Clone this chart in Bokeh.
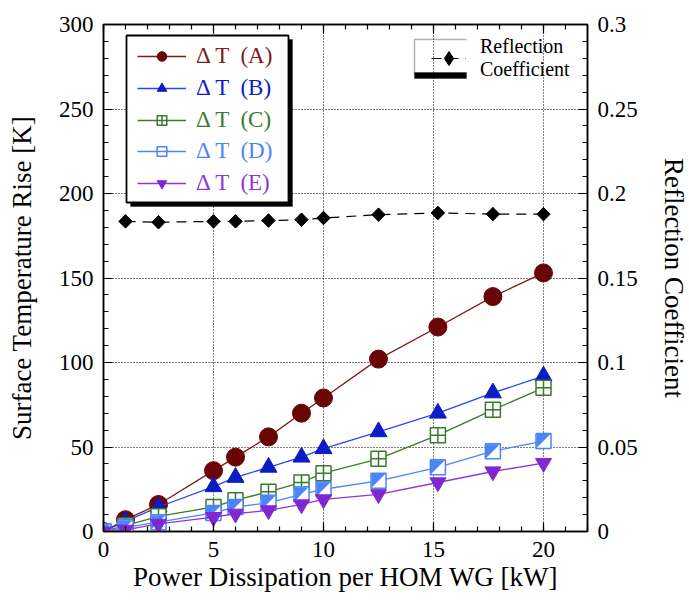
import math
from bokeh.plotting import figure
from bokeh.models import (LinearAxis, Range1d, FixedTicker, Legend, LegendItem,
                          BoxAnnotation, PolyAnnotation, CustomJSTickFormatter)
from bokeh.embed import file_html
from bokeh.resources import INLINE

# ---------------- data ----------------
power_kw = [0, 1, 2.5, 5, 6, 7.5, 9, 10, 12.5, 15.2, 17.7, 20]
dT_A = [0, 7, 16, 36, 44, 56, 70, 79, 102, 121, 139, 153]
dT_B = [0, 6, 14.5, 26.5, 32, 38, 44, 49, 59, 70, 82, 92]
dT_C = [0, 3.5, 9, 14.5, 18.5, 23.5, 29, 34.5, 43, 57, 72, 85]
dT_D = [0, 2.5, 5.5, 11, 14.5, 17, 22, 25, 30, 38, 47.5, 53.5]
dT_E = [0, 1, 4.5, 8.5, 10.5, 12.5, 16, 19, 22, 29, 35.5, 40.5]

refl_power_kw = [1, 2.5, 5, 6, 7.5, 9, 10, 12.5, 15.2, 17.7, 20]
refl_coef = [0.1835, 0.183, 0.1835, 0.1835, 0.184, 0.1845, 0.1855, 0.1875, 0.1885, 0.1878, 0.1878]

x_ticks = [0, 5, 10, 15, 20]
y_ticks = [0, 50, 100, 150, 200, 250, 300]
refl_ticks = [0, 0.05, 0.1, 0.15, 0.2, 0.25, 0.3]
legend_labels = ["Δ T  (A)", "Δ T  (B)", "Δ T  (C)", "Δ T  (D)", "Δ T  (E)"]
refl_label = "Reflection\nCoefficient"

FONT = "Liberation Serif"
X_MAX, Y_MAX, R_MAX = 22, 300, 0.3
FW, FH = 484, 507

p = figure(frame_width=FW, frame_height=FH,
           x_range=Range1d(0, X_MAX), y_range=Range1d(0, Y_MAX),
           output_backend="svg", toolbar_location=None,
           x_axis_location="below", y_axis_location="left",
           min_border_left=103, min_border_right=86, min_border_top=24, min_border_bottom=60,
           background_fill_color="white", border_fill_color="white")
p.outline_line_color = "black"
p.outline_line_width = 1.5

bottom_ax = p.below[0]
left_ax = p.left[0]

p.extra_y_ranges = {"refl": Range1d(0, R_MAX)}

right_ax = LinearAxis(y_range_name="refl", axis_label="Reflection Coefficient",
                      ticker=FixedTicker(ticks=refl_ticks, minor_ticks=[i / 100 for i in range(31)]),
                      formatter=CustomJSTickFormatter(code="return tick == 0 ? '0' : String(+tick.toFixed(2));"))
p.add_layout(right_ax, "right")
top_ax = LinearAxis(ticker=FixedTicker(ticks=x_ticks, minor_ticks=list(range(X_MAX + 1))),
                    formatter=CustomJSTickFormatter(code="return '';"))
top_ax.major_label_standoff = 0
p.add_layout(top_ax, "above")

bottom_ax.ticker = FixedTicker(ticks=x_ticks, minor_ticks=list(range(X_MAX + 1)))
left_ax.ticker = FixedTicker(ticks=y_ticks, minor_ticks=list(range(0, Y_MAX + 1, 10)))
bottom_ax.axis_label = "Power Dissipation per HOM WG [kW]"
left_ax.axis_label = "Surface Temperature Rise [K]"

for ax in [bottom_ax, left_ax, right_ax, top_ax]:
    ax.axis_line_color = "black"
    ax.axis_line_width = 1.5
    ax.major_tick_in = 9
    ax.major_tick_out = 0
    ax.minor_tick_in = 5
    ax.minor_tick_out = 0
    ax.major_tick_line_color = "black"
    ax.minor_tick_line_color = "black"
    ax.major_tick_line_width = 1.2
    ax.minor_tick_line_width = 1.2
    ax.major_label_text_font = FONT
    ax.major_label_text_color = "black"
    ax.axis_label_text_font = FONT
    ax.axis_label_text_font_style = "normal"
    ax.axis_label_text_color = "black"
    ax.axis_label_text_font_size = "27px"
for ax in [bottom_ax, left_ax, right_ax]:
    ax.major_label_text_font_size = "23px"
    ax.major_label_standoff = 10
bottom_ax.axis_label_standoff = 2
left_ax.axis_label_standoff = 19
right_ax.axis_label_standoff = 18

p.xgrid.ticker = FixedTicker(ticks=x_ticks[1:])
p.ygrid.ticker = FixedTicker(ticks=y_ticks[1:-1])
for g in [p.xgrid, p.ygrid]:
    g.grid_line_color = "black"
    g.grid_line_dash = "1 2"
    g.grid_line_width = 1

# ---------------- series ----------------
col_A_line, col_A_mark = "#7e1a1a", "#6a0505"
col_B_line, col_B_mark = "#2a48ee", "#0c1cc4"
col_C = "#3b7a2e"
col_D = "#4a86f8"
col_E_line, col_E_mark = "#9036d8", "#8028d0"

rA_l = p.line(power_kw, dT_A, line_color=col_A_line, line_width=1.3)
rA_m = p.scatter(power_kw, dT_A, marker="circle", size=18, fill_color=col_A_mark, line_color=col_A_mark)

rB_l = p.line(power_kw, dT_B, line_color=col_B_line, line_width=1.3)
rB_m = p.scatter(power_kw, dT_B, marker="triangle", size=17, fill_color=col_B_mark, line_color=col_B_mark)

rC_l = p.line(power_kw, dT_C, line_color=col_C, line_width=1.3)
rC_m = p.scatter(power_kw, dT_C, marker="square_cross", size=15, fill_color="white",
                 line_color=col_C, line_width=1.5)

rD_l = p.line(power_kw, dT_D, line_color=col_D, line_width=1.3)
half = 7.0
hx = half * X_MAX / FW
hy = half * Y_MAX / FH
tri_xs = [[x - hx, x - hx, x + hx] for x in power_kw]
tri_ys = [[y - hy, y + hy, y + hy] for y in dT_D]
rD_bg = p.scatter(power_kw, dT_D, marker="square", size=15, fill_color="white", line_color=None)
p.patches(tri_xs, tri_ys, fill_color=col_D, line_color=None)
rD_m = p.scatter(power_kw, dT_D, marker="square", size=15, fill_color=None,
                 line_color=col_D, line_width=1.5)

rE_l = p.line(power_kw, dT_E, line_color=col_E_line, line_width=1.3)
rE_m = p.scatter(power_kw, dT_E, marker="inverted_triangle", size=16, fill_color=col_E_mark,
                 line_color=col_E_mark)

rR_l = p.line(refl_power_kw, refl_coef, y_range_name="refl", line_color="black",
              line_width=1.2, line_dash="10 7")
# diamond marker (also used for the legend glyph), covered by a rotated square
rR_leg = p.scatter(refl_power_kw, refl_coef, y_range_name="refl", marker="diamond",
                   size=13, fill_color="black", line_color="black")
p.scatter(refl_power_kw, refl_coef, y_range_name="refl", marker="square", angle=math.pi / 4,
          size=9.5, fill_color="black", line_color="black")

# ---------------- legend 1 (box with shadow, coloured labels) ----------------
p.add_layout(BoxAnnotation(left=27, right=189, bottom=325, top=492,
                           left_units="screen", right_units="screen",
                           top_units="screen", bottom_units="screen",
                           fill_color="black", fill_alpha=1, line_color="black"))
p.add_layout(BoxAnnotation(left=23, right=185, bottom=329, top=496,
                           left_units="screen", right_units="screen",
                           top_units="screen", bottom_units="screen",
                           fill_color="white", fill_alpha=1, line_color="black",
                           line_width=1.8, line_alpha=1))

entries = [([rA_l, rA_m], col_A_line), ([rB_l, rB_m], col_B_mark), ([rC_l, rC_m], col_C),
           ([rD_l, rD_m], col_D), ([rE_l, rE_m], col_E_line)]
for i, ((rends, col), lab) in enumerate(zip(entries, legend_labels)):
    cy = 57 + 31.8 * i           # centre of entry, page pixels
    leg = Legend(items=[LegendItem(label=lab, renderers=rends)],
                 location=(34, 531 - (cy + 12)),
                 glyph_width=49, glyph_height=24, label_height=24, label_standoff=10,
                 padding=0, margin=0, spacing=0,
                 border_line_alpha=0, background_fill_alpha=0,
                 label_text_font=FONT, label_text_font_size="23px", label_text_color=col)
    p.add_layout(leg)

# ---------------- legend 2 (reflection coefficient) ----------------
p.add_layout(PolyAnnotation(xs=[363, 311, 311, 311], ys=[492, 492, 456, 492],
                            xs_units="screen", ys_units="screen",
                            fill_alpha=0, line_color="black", line_width=1.5))
p.add_layout(BoxAnnotation(left=311, right=363, bottom=453, top=459,
                           left_units="screen", right_units="screen",
                           top_units="screen", bottom_units="screen",
                           fill_color="black", fill_alpha=1, line_color="black"))
leg2 = Legend(items=[LegendItem(label=refl_label, renderers=[rR_l, rR_leg])],
              location=(328, 450),
              glyph_width=35, glyph_height=36, label_standoff=14,
              padding=0, margin=0, spacing=0,
              border_line_alpha=0, background_fill_alpha=0,
              label_text_font=FONT, label_text_font_size="20px", label_text_color="black")
p.add_layout(leg2)

open("out.html", "w").write(file_html(p, INLINE))
